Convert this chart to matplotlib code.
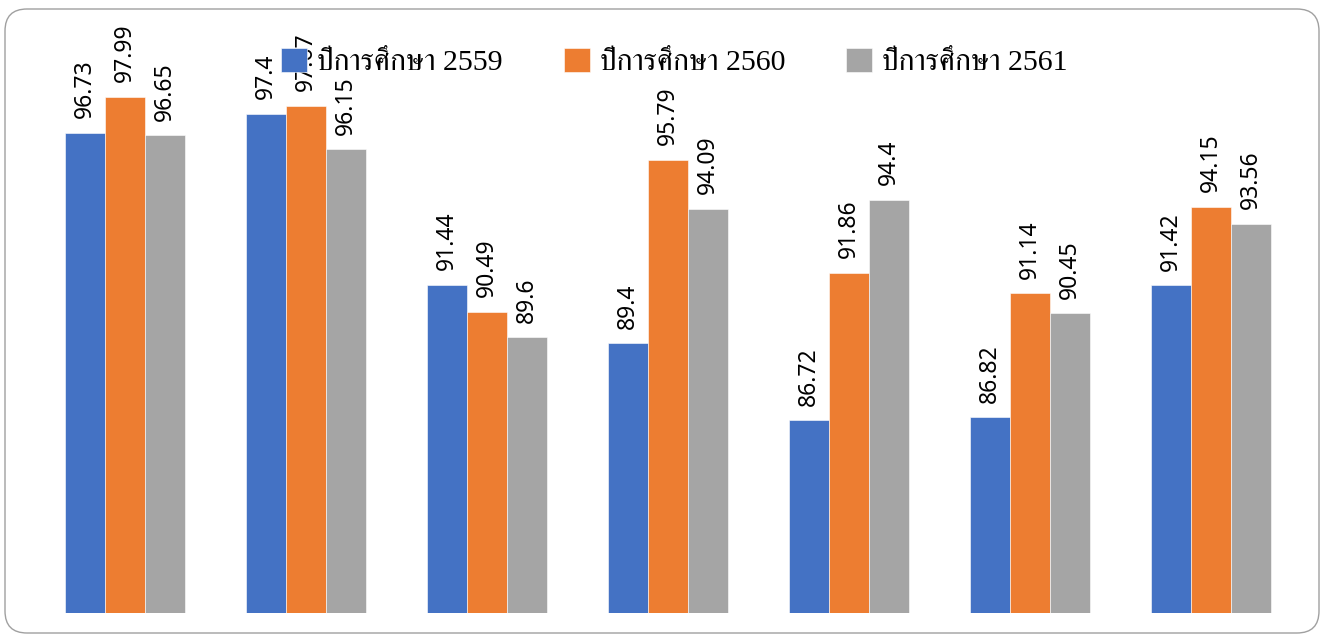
import numpy as np
import matplotlib
matplotlib.use('Agg')
import matplotlib.pyplot as plt
from matplotlib import font_manager
from matplotlib.ft2font import FT2Font
from matplotlib.patches import FancyBboxPatch
from matplotlib.transforms import IdentityTransform

# data
series_names = ['ปีการศึกษา 2559', 'ปีการศึกษา 2560', 'ปีการศึกษา 2561']
y2559 = [96.73, 97.4, 91.44, 89.4, 86.72, 86.82, 91.42]
y2560 = [97.99, 97.67, 90.49, 95.79, 91.86, 91.14, 94.15]
y2561 = [96.65, 96.15, 89.6, 94.09, 94.4, 90.45, 93.56]
colors = ['#4472C4', '#ED7D31', '#A5A5A5']


# find something installed that can draw Thai
def find_thai_fonts():
    found = []
    for f in font_manager.fontManager.ttflist:
        try:
            if FT2Font(f.fname).get_char_index(0x0E01):
                found.append(f.name)
        except Exception:
            pass
    return found

thai = find_thai_fonts()
serif_thai = [n for n in thai if 'Serif' in n]
thai_family = ['Liberation Serif'] + (serif_thai or thai)[:1] + ['DejaVu Serif']

fig = plt.figure(figsize=(13.23, 6.36), dpi=100)
ax = fig.add_axes([34.5 / 1323, 23 / 636, 1267 / 1323, 574 / 636])

x = np.arange(len(y2559))
w = 40 / 181
for i, (vals, name, c) in enumerate(zip([y2559, y2560, y2561], series_names, colors)):
    pos = x + (i - 1) * w
    bars = ax.bar(pos, vals, width=w, color=c, label=name,
                  edgecolor='white', linewidth=0.4)
    for b, v in zip(bars, vals):
        ax.annotate('%g' % v, (b.get_x() + b.get_width() / 2, b.get_height()),
                    xytext=(0, 10.5), textcoords='offset points',
                    rotation=90, ha='center', va='bottom',
                    fontsize=16.5, family=['Noto Sans', 'DejaVu Sans'])

ax.set_xlim(-0.5, len(x) - 0.5)
ax.set_ylim(80, 100)
ax.axis('off')

leg = fig.legend(loc='center', bbox_to_anchor=(674.5 / 1323, 1 - 62 / 636),
                 ncol=3, frameon=False, handlelength=0.87, handleheight=0.87,
                 handletextpad=0.33, columnspacing=2.05,
                 prop={'family': thai_family, 'size': 21.5})

# rounded chart border
border = FancyBboxPatch((5, 3), 1314, 624,
                        boxstyle='round,pad=0,rounding_size=22',
                        transform=IdentityTransform(), fill=False,
                        edgecolor='#a0a0a0', linewidth=1.0)
fig.patches.append(border)

fig.savefig('out.png', dpi=100)
